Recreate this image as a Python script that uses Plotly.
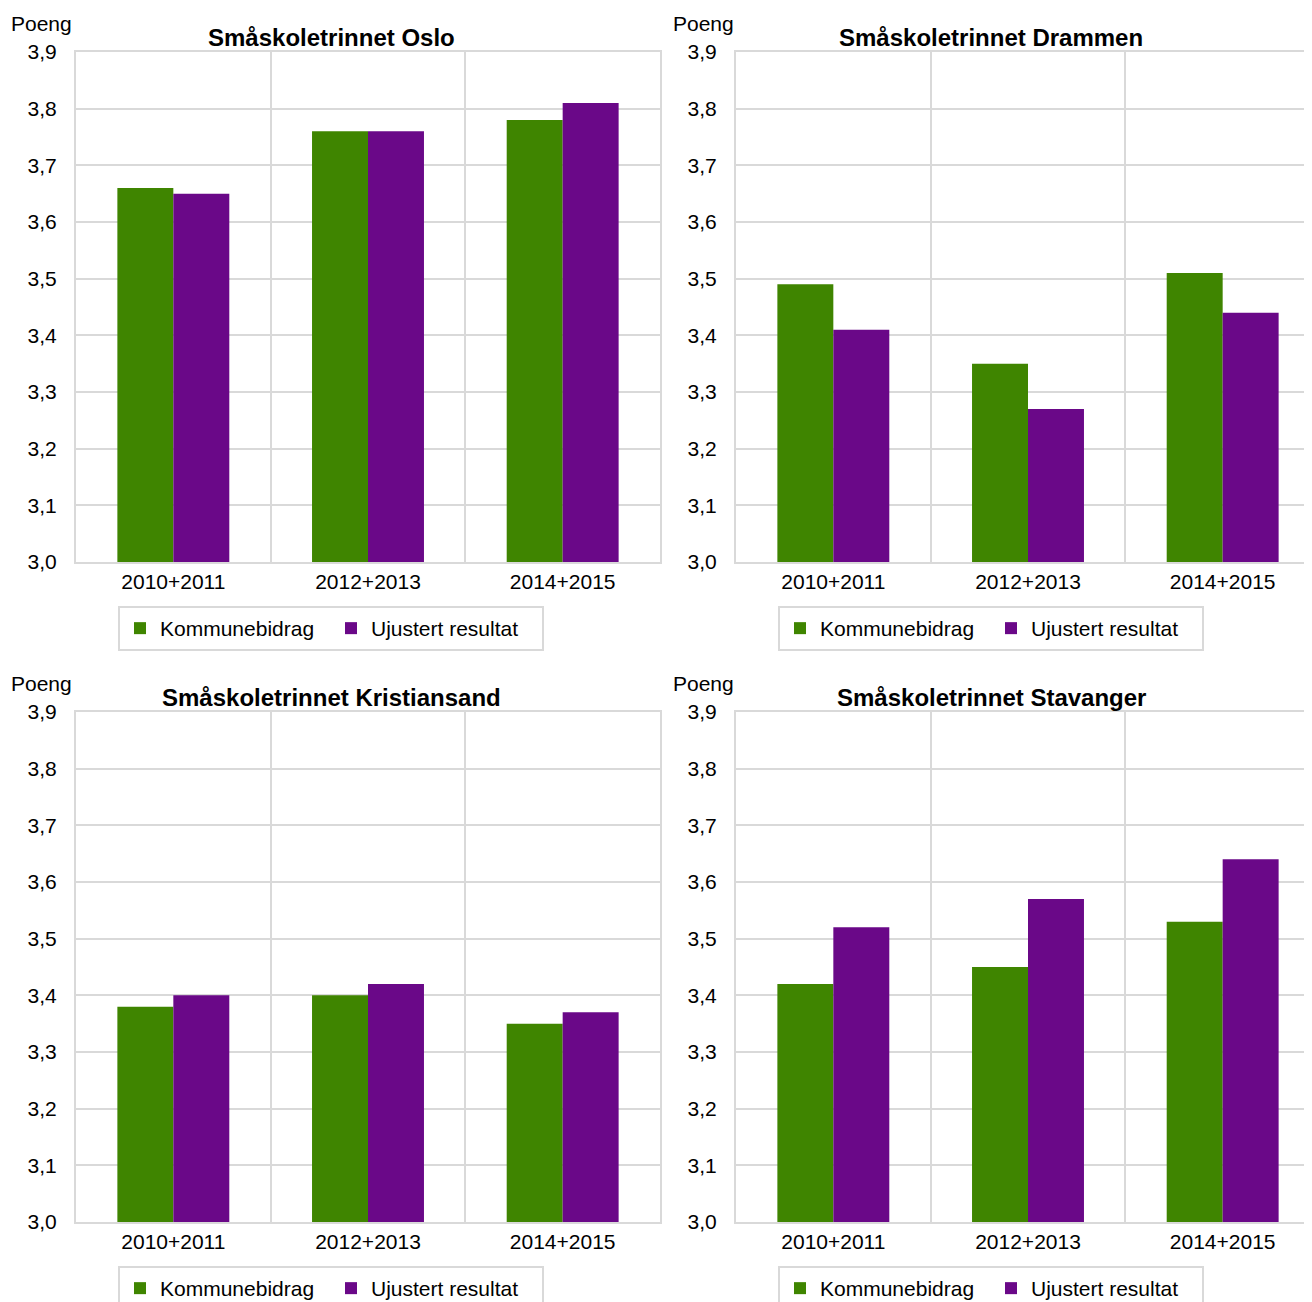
import plotly.graph_objects as go

# page body has an 8px margin; figure is sized so it ends at the window edge
OFF = 8
W, H = 1312 - OFF, 1302 - OFF

categories = ["2010+2011", "2012+2013", "2014+2015"]
series_names = ["Kommunebidrag", "Ujustert resultat"]
colors = ["#3F8500", "#6A0888"]

titles = ["Småskoletrinnet Oslo", "Småskoletrinnet Drammen",
          "Småskoletrinnet Kristiansand", "Småskoletrinnet Stavanger"]

oslo_komm = [3.66, 3.76, 3.78]
oslo_ujust = [3.65, 3.76, 3.81]
drammen_komm = [3.49, 3.35, 3.51]
drammen_ujust = [3.41, 3.27, 3.44]
krs_komm = [3.38, 3.40, 3.35]
krs_ujust = [3.40, 3.42, 3.37]
stav_komm = [3.42, 3.45, 3.53]
stav_ujust = [3.52, 3.57, 3.64]

panels = [
    (oslo_komm, oslo_ujust),
    (drammen_komm, drammen_ujust),
    (krs_komm, krs_ujust),
    (stav_komm, stav_ujust),
]

y_ticks = [3.0, 3.1, 3.2, 3.3, 3.4, 3.5, 3.6, 3.7, 3.8, 3.9]

FONT = "Liberation Sans, Arial, sans-serif"
GRID = "#D9D9D9"


def px_x(x):
    return (x - OFF) / W


def px_y(y):
    return 1 - (y - OFF) / H


# pixel geometry (window coords): left, right, top, bottom, title_cx, title_cy, poeng_x, poeng_cy, legend_cx, legend_top
geo = [
    (76, 660, 52, 562, 331, 37, 9, 23, 331, 606),
    (736, 1312, 52, 562, 991, 37, 671, 23, 991, 606),
    (76, 660, 712, 1222, 331, 697, 9, 683, 331, 1266),
    (736, 1312, 712, 1222, 991, 697, 671, 683, 991, 1266),
]

fig = go.Figure()
annotations = []
layout = {}

full_w = 584
cat_w = full_w / 3

for i, ((komm, ujust), g) in enumerate(zip(panels, geo)):
    left, right, top, bottom, tcx, tcy, poeng_x, poeng_cy, lcx, ly = g
    n = i + 1
    xa = "x" if n == 1 else f"x{n}"
    ya = "y" if n == 1 else f"y{n}"
    leg = "legend" if n == 1 else f"legend{n}"
    for vals, name, col in zip((komm, ujust), series_names, colors):
        fig.add_trace(go.Bar(
            x=categories, y=vals, name=name, marker_color=col,
            marker_line_width=0, xaxis=xa, yaxis=ya, legend=leg,
            showlegend=True,
        ))
    cropped = (right - left) < full_w - 1
    xr = [-0.5, -0.5 + (right - left) / cat_w] if cropped else [-0.5, 2.5]
    xkey = "xaxis" if n == 1 else f"xaxis{n}"
    ykey = "yaxis" if n == 1 else f"yaxis{n}"
    layout[xkey] = dict(
        domain=[px_x(left), px_x(right)], anchor=ya, type="category",
        range=xr, tickson="boundaries", showgrid=True, gridcolor=GRID,
        gridwidth=2, showline=True, linecolor=GRID, linewidth=2, mirror=True,
        ticks="", tickfont=dict(family=FONT, size=21, color="#000000"),
        ticklabelstandoff=0,
    )
    layout[ykey] = dict(
        domain=[px_y(bottom), px_y(top)], anchor=xa, range=[3.0, 3.9],
        tickvals=y_ticks, tickformat=".1f", showgrid=True, gridcolor=GRID,
        gridwidth=2, showline=True, linecolor=GRID, linewidth=2,
        mirror=not cropped, ticks="", zeroline=False,
        tickfont=dict(family=FONT, size=21, color="#000000"),
        ticklabelstandoff=13,
    )
    layout[leg] = dict(
        orientation="h", x=px_x(lcx), xanchor="center", y=px_y(ly),
        yanchor="top", bordercolor=GRID, borderwidth=2, bgcolor="white",
        font=dict(family=FONT, size=21, color="#000000"),
        entrywidth=166, itemclick=False, itemdoubleclick=False,
    )
    annotations.append(dict(
        text=f"<b>{titles[i]}</b>", x=px_x(tcx), y=px_y(tcy), xref="paper",
        yref="paper", xanchor="center", yanchor="middle", showarrow=False,
        font=dict(family=FONT, size=24, color="#000000"),
    ))
    annotations.append(dict(
        text="Poeng", x=px_x(poeng_x), y=px_y(poeng_cy),
        xref="paper", yref="paper", xanchor="left", yanchor="middle",
        showarrow=False, font=dict(family=FONT, size=21, color="#000000"),
    ))

fig.update_layout(
    width=W, height=H, margin=dict(l=0, r=0, t=0, b=0, autoexpand=False),
    paper_bgcolor="white", plot_bgcolor="white",
    barmode="group", bargap=0.425, bargroupgap=0,
    separators=",.", annotations=annotations,
    font=dict(family=FONT, size=21, color="#000000"),
    **layout,
)

fig.write_html("out.html")
